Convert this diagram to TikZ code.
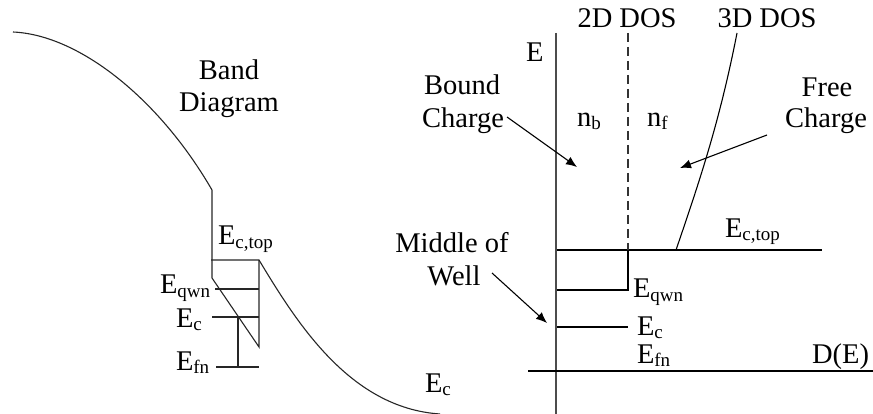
\documentclass[tikz,border=0pt]{standalone}
\usepackage{fontspec}
\setmainfont{Liberation Serif}
\usetikzlibrary{arrows.meta}
\newcommand\lblfont{\rmfamily\fontsize{28.5}{33}\selectfont}
\newcommand\lsub[1]{\raisebox{-3pt}{\fontsize{19}{19}\selectfont #1}}
\tikzset{
  lbl/.style={font=\lblfont, inner sep=0pt, outer sep=0pt},
  band/.style={line width=1.1pt, black!85},
  axis/.style={line width=1.5pt, black!70},
  thin/.style={line width=1.1pt, black},
  arr/.style={line width=1.1pt, black, -{Latex[length=11pt,width=9pt]}},
  dashv/.style={line width=1.1pt, black!80, dash pattern=on 9pt off 5pt}
}
\begin{document}
\begin{tikzpicture}[x=1pt,y=-1pt]
\useasboundingbox (0,0) rectangle (873,414);
% ---------- left band diagram ----------
\coordinate (c0) at (13,32);
\coordinate (c1) at (212,190);
\coordinate (c2) at (212,278);
\coordinate (c3) at (259,347);
\coordinate (c4) at (259,260);
\coordinate (c5) at (211,260);
\coordinate (c6) at (440,414);
\draw[band] (c0) .. controls (80,35) and (160,100) .. (c1) -- (c2) -- (c3) -- (c4);
\draw[band] (c5) -- (c4) .. controls (297,323) and (350,408) .. (c6);
\coordinate (q1) at (215,289); \coordinate (q2) at (259,289);
\coordinate (e1) at (212,317); \coordinate (e2) at (259,317);
\coordinate (v1) at (238,317); \coordinate (v2) at (238,367);
\coordinate (f1) at (216,367); \coordinate (f2) at (259,367);
\draw[band] (q1) -- (q2);
\draw[band] (e1) -- (e2);
\draw[band] (v1) -- (v2);
\draw[band] (f1) -- (f2);
\node[lbl, anchor=base] (bandA) at (229,80) {Band};
\node[lbl, anchor=base] (bandB) at (229,112) {Diagram};
\node[lbl, anchor=base west] (lEct) at (218,245) {E\lsub{c,top}};
\node[lbl, anchor=base west] (lEq) at (160,294) {E\lsub{qwn}};
\node[lbl, anchor=base west] (lEc) at (176,327) {E\lsub{c}};
\node[lbl, anchor=base west] (lEf) at (176,370) {E\lsub{fn}};
\node[lbl, anchor=base west] (lEc2) at (425,392) {E\lsub{c}};
% ---------- right DOS diagram ----------
\coordinate (ya) at (556,33); \coordinate (yb) at (556,414);
\coordinate (xa) at (528,371); \coordinate (xb) at (873,371);
\draw[axis] (ya) -- (yb);
\draw[thin] (xa) -- (xb);
\coordinate (t1) at (557,250); \coordinate (t2) at (822,250);
\draw[thin] (t1) -- (t2);
\coordinate (d0) at (628,33); \coordinate (d1) at (628,250);
\coordinate (d2) at (628,290); \coordinate (d3) at (557,290);
\draw[dashv] (d0) -- (d1);
\draw[thin] (d1) -- (d2) -- (d3);
\coordinate (r1) at (557,327); \coordinate (r2) at (628,327);
\draw[thin] (r1) -- (r2);
\coordinate (s0) at (737,33); \coordinate (s1) at (676,250);
\draw[thin] (s0) .. controls (720,120) and (700,180) .. (s1);
\node[lbl, anchor=base west] (Elab) at (526,62) {E};
\node[lbl, anchor=base] (dos2) at (627,28) {2D DOS};
\node[lbl, anchor=base] (dos3) at (767,28) {3D DOS};
\node[lbl, anchor=base east] (DE) at (869,363) {D(E)};
\node[lbl, anchor=base west] (nb) at (577,127) {n\lsub{b}};
\node[lbl, anchor=base west] (nf) at (647,127) {n\lsub{f}};
\node[lbl, anchor=base west] (rEct) at (725,237) {E\lsub{c,top}};
\node[lbl, anchor=base west] (rEq) at (633,298) {E\lsub{qwn}};
\node[lbl, anchor=base west] (rEc) at (637,335) {E\lsub{c}};
\node[lbl, anchor=base west] (rEf) at (637,363) {E\lsub{fn}};
\node[lbl, anchor=base] (boundA) at (462,95) {Bound};
\node[lbl, anchor=base] (boundB) at (463,128) {Charge};
\node[lbl, anchor=base] (freeA) at (827,97) {Free};
\node[lbl, anchor=base] (freeB) at (826,128) {Charge};
\node[lbl, anchor=base] (midA) at (452,253) {Middle of};
\node[lbl, anchor=base] (midB) at (454,286) {Well};
\coordinate (ab0) at (507,117); \coordinate (ab1) at (577,167);
\coordinate (af0) at (767,135); \coordinate (af1) at (680,168);
\coordinate (am0) at (492,273); \coordinate (am1) at (547,323);
\draw[arr] (ab0) -- (ab1);
\draw[arr] (af0) -- (af1);
\draw[arr] (am0) -- (am1);
\end{tikzpicture}
\end{document}
